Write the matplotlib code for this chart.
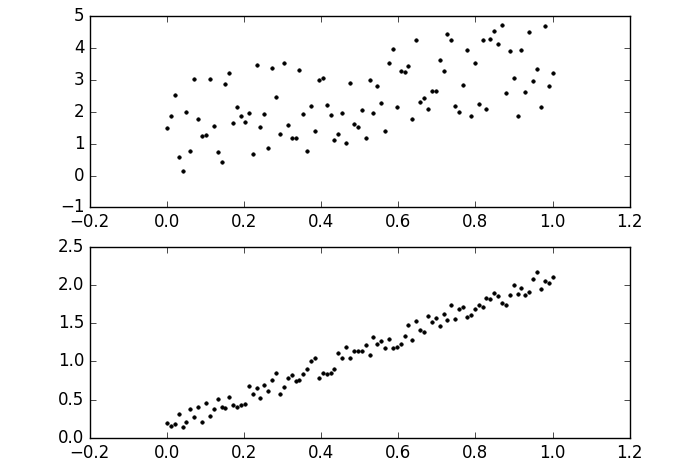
import matplotlib
matplotlib.use("Agg")
import matplotlib.pyplot as plt
import numpy as np

plt.style.use('classic')

# x positions: 100 evenly spaced samples on [0, 1]
x = np.linspace(0, 1, 100)

# noisy data (top panel)
y_noisy = [1.48, 1.85, 2.53, 0.59, 0.14, 2.00, 0.78, 3.02, 1.78, 1.24,
           1.26, 3.02, 1.54, 0.73, 0.42, 2.87, 3.21, 1.63, 2.14, 1.88,
           1.67, 1.97, 0.66, 3.45, 1.52, 1.93, 0.86, 3.38, 2.46, 1.31,
           3.54, 1.58, 1.19, 1.19, 3.31, 1.92, 0.78, 2.18, 1.40, 2.98,
           3.05, 2.20, 1.90, 1.11, 1.30, 1.97, 1.02, 2.91, 1.61, 1.51,
           2.05, 1.16, 3.00, 1.95, 2.81, 2.28, 1.40, 3.51, 3.95, 2.15,
           3.27, 3.24, 3.42, 1.78, 4.26, 2.29, 2.43, 2.09, 2.65, 2.65,
           3.62, 3.26, 4.43, 4.26, 2.18, 1.99, 2.83, 3.94, 1.86, 3.54,
           2.25, 4.23, 2.09, 4.29, 4.54, 4.12, 4.73, 2.57, 3.89, 3.04,
           1.87, 3.94, 2.63, 4.49, 2.95, 3.35, 2.14, 4.68, 2.82, 3.21]

# less noisy data (bottom panel)
y_clean = [0.19, 0.16, 0.18, 0.32, 0.14, 0.21, 0.38, 0.27, 0.41, 0.21,
           0.46, 0.29, 0.38, 0.51, 0.41, 0.39, 0.54, 0.43, 0.41, 0.43,
           0.45, 0.68, 0.57, 0.65, 0.52, 0.69, 0.61, 0.76, 0.85, 0.58,
           0.67, 0.79, 0.82, 0.74, 0.76, 0.84, 0.90, 1.00, 1.05, 0.79,
           0.85, 0.83, 0.85, 0.90, 1.11, 1.05, 1.19, 1.04, 1.13, 1.13,
           1.13, 1.22, 1.09, 1.32, 1.23, 1.27, 1.17, 1.29, 1.18, 1.19,
           1.23, 1.33, 1.47, 1.28, 1.53, 1.41, 1.39, 1.59, 1.52, 1.57,
           1.46, 1.62, 1.54, 1.74, 1.55, 1.68, 1.71, 1.58, 1.60, 1.68,
           1.74, 1.71, 1.83, 1.81, 1.89, 1.85, 1.76, 1.74, 1.87, 2.00,
           1.88, 1.96, 1.87, 1.90, 2.08, 2.17, 1.95, 2.05, 2.02, 2.10]

fig = plt.figure(figsize=(6.86, 4.68), dpi=100, facecolor='white')
fig.subplots_adjust(left=0.131, right=0.918, top=0.966, bottom=0.064, hspace=0.204)

ax1 = fig.add_subplot(211)
ax1.plot(x, y_noisy, 'k.', markersize=5)
ax1.set_xlim(-0.2, 1.2)
ax1.set_ylim(-1, 5)

ax2 = fig.add_subplot(212)
ax2.plot(x, y_clean, 'k.', markersize=5)
ax2.set_xlim(-0.2, 1.2)
ax2.set_ylim(0, 2.5)

fig.savefig('out.png', dpi=100, facecolor='white')
